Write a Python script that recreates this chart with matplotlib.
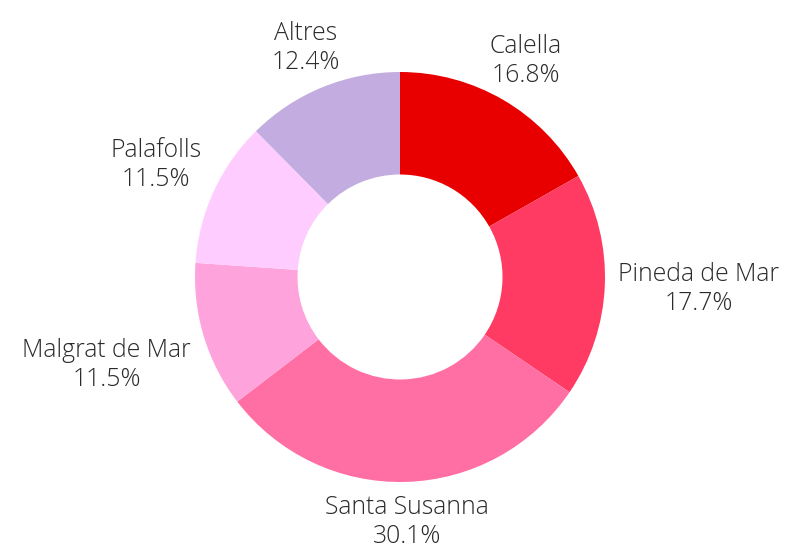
import numpy as np
import matplotlib
matplotlib.use('Agg')
import matplotlib.pyplot as plt

# ── DADES ──────────────────────────────────────────────────────────────────────
municipis = ['Calella', 'Pineda de Mar', 'Santa Susanna',
             'Malgrat de Mar', 'Palafolls', 'Altres']
percentatges = [16.8, 17.7, 30.1, 11.5, 11.5, 12.4]
colors = ['#e80000', '#ff3a63', '#ff6fa4', '#ffa3dc', '#ffccff', '#c3ace0']

# ── FIGURA ─────────────────────────────────────────────────────────────────────
W, H = 798, 550
CX, CY, R = 400, 550 - 277, 205

plt.rcParams['font.family'] = ['Open Sans', 'DejaVu Sans']
fig = plt.figure(figsize=(W / 100, H / 100), dpi=100)
ax = fig.add_axes([0, 0, 1, 1])

wedges, _ = ax.pie(percentatges, colors=colors, startangle=90, counterclock=False,
                   center=(CX, CY), radius=R, frame=True,
                   wedgeprops=dict(width=R * 0.5, linewidth=0))
ax.set_xlim(0, W); ax.set_ylim(0, H)
ax.set_aspect('equal'); ax.axis('off')

# etiquetes fora del donut, centrades sobre l'angle mitjà
fig.canvas.draw()
renderer = fig.canvas.get_renderer()
gap = R * 0.065
for w, nom, p in zip(wedges, municipis, percentatges):
    ang = np.deg2rad((w.theta1 + w.theta2) / 2)
    c, s = np.cos(ang), np.sin(ang)
    t = ax.text(0, 0, f'{nom}\n{p:.1f}%', ha='center', va='center',
                fontsize=17.8, fontweight='light', color='#2a2a2a',
                linespacing=1.22)
    bb = t.get_window_extent(renderer)
    hw, hh = bb.width / 2, bb.height / 2
    ext = min(hw / abs(c) if abs(c) > 1e-6 else np.inf,
              hh / abs(s) if abs(s) > 1e-6 else np.inf)
    d = R + gap + ext
    t.set_position((CX + d * c, CY + d * s))

fig.savefig('out.png', dpi=100)
plt.close(fig)
